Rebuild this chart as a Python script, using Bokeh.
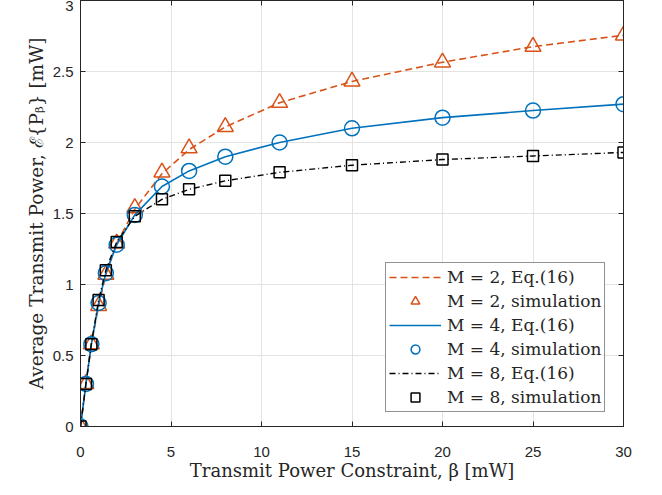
from bokeh.plotting import figure
from bokeh.models import Range1d, LinearAxis, Legend, LegendItem, FixedTicker, CustomJSTickFormatter
from bokeh.embed import file_html
from bokeh.resources import INLINE

# ---- data ----
beta = [0, 0.3, 0.6, 1, 1.4, 2, 3, 4.5, 6, 8, 11, 15, 20, 25, 30]
m2_eq = [0, 0.30, 0.58, 0.85, 1.07, 1.29, 1.53, 1.78, 1.95, 2.11, 2.28, 2.43, 2.565, 2.675, 2.755]
m2_sim = [0, 0.30, 0.58, 0.85, 1.07, 1.29, 1.54, 1.79, 1.96, 2.11, 2.28, 2.43, 2.565, 2.675, 2.755]
m4_eq = [0, 0.30, 0.58, 0.87, 1.08, 1.28, 1.49, 1.69, 1.80, 1.90, 2.00, 2.10, 2.175, 2.225, 2.27]
m4_sim = [0, 0.30, 0.58, 0.87, 1.08, 1.28, 1.49, 1.69, 1.80, 1.90, 2.00, 2.10, 2.175, 2.225, 2.27]
m8_eq = [0, 0.30, 0.58, 0.89, 1.10, 1.30, 1.48, 1.60, 1.67, 1.73, 1.79, 1.84, 1.88, 1.905, 1.93]
m8_sim = [0, 0.30, 0.58, 0.89, 1.10, 1.30, 1.48, 1.60, 1.67, 1.73, 1.79, 1.84, 1.88, 1.905, 1.93]
x_ticks = [0, 5, 10, 15, 20, 25, 30]
y_ticks = [0, 0.5, 1, 1.5, 2, 2.5, 3]
labels = ["M = 2, Eq.(16)", "M = 2, simulation", "M = 4, Eq.(16)",
          "M = 4, simulation", "M = 8, Eq.(16)", "M = 8, simulation"]

ORANGE = "#D95319"
BLUE = "#0072BD"
BLACK = "#000000"
AX = "#262626"
TICK_FONT = "Liberation Sans"
SERIF = "DejaVu Serif"

p = figure(frame_width=543, frame_height=426,
           x_range=Range1d(0, 30), y_range=Range1d(0, 3),
           output_backend="svg", toolbar_location=None,
           min_border_left=80, min_border_right=31,
           min_border_top=0, min_border_bottom=50)
p.background_fill_color = "white"
p.outline_line_color = AX
p.outline_line_width = 1

for ax in (p.xaxis[0], p.yaxis[0]):
    ax.axis_line_color = AX
    ax.major_tick_line_color = AX
    ax.major_tick_in = 5
    ax.major_tick_out = 0
    ax.minor_tick_line_color = None
    ax.major_label_text_font = TICK_FONT
    ax.major_label_text_font_size = "15px"
    ax.major_label_text_color = AX
    ax.axis_label_text_font = SERIF
    ax.axis_label_text_font_style = "normal"
    ax.axis_label_text_color = AX

p.xaxis.axis_label_text_font_size = "18px"
p.yaxis.axis_label_text_font_size = "18.5px"
p.xaxis.ticker = FixedTicker(ticks=x_ticks)
p.yaxis.ticker = FixedTicker(ticks=y_ticks)
p.xaxis.major_label_standoff = 20
p.yaxis.major_label_standoff = 7
p.xaxis.axis_label = "Transmit Power Constraint, \u03b2 [mW]"
p.yaxis.axis_label = "Average Transmit Power, \u2130{P\u1d66} [mW]"
p.xaxis.axis_label_standoff = 0
p.yaxis.axis_label_standoff = 3

# top / right ticks (box), no labels
blank = CustomJSTickFormatter(code="return ''")
top = LinearAxis(ticker=FixedTicker(ticks=x_ticks), formatter=blank,
                 major_tick_in=5, major_tick_out=0, minor_tick_line_color=None,
                 axis_line_color=AX, major_tick_line_color=AX, major_label_standoff=0)
right = LinearAxis(ticker=FixedTicker(ticks=y_ticks), formatter=blank,
                   major_tick_in=5, major_tick_out=0, minor_tick_line_color=None,
                   axis_line_color=AX, major_tick_line_color=AX, major_label_standoff=0)
p.add_layout(top, "above")
p.add_layout(right, "right")

p.xgrid.ticker = FixedTicker(ticks=x_ticks)
p.ygrid.ticker = FixedTicker(ticks=y_ticks)
p.grid.grid_line_color = "#e3e3e3"
p.grid.grid_line_width = 1

r1 = p.line(beta, m2_eq, line_color=ORANGE, line_width=1.6, line_dash="7 4")
r2 = p.scatter(beta, m2_sim, marker="triangle", size=16, fill_color=None,
               line_color=ORANGE, line_width=1.5)
r3 = p.line(beta, m4_eq, line_color=BLUE, line_width=1.6)
r4 = p.scatter(beta, m4_sim, marker="circle", size=15, fill_color=None,
               line_color=BLUE, line_width=1.5)
r5 = p.line(beta, m8_eq, line_color=BLACK, line_width=1.4, line_dash="6 3 1 3")
r6 = p.scatter(beta, m8_sim, marker="square", size=11, fill_color=None,
               line_color=BLACK, line_width=1.5)

items = [LegendItem(label=l, renderers=[r]) for l, r in zip(labels, [r1, r2, r3, r4, r5, r6])]
legend = Legend(items=items, location=(305, 14), orientation="vertical")
legend.label_text_font = SERIF
legend.label_text_font_size = "17px"
legend.label_text_color = AX
legend.glyph_width = 52
legend.glyph_height = 22
legend.label_height = 22
legend.spacing = 2
legend.padding = 3
legend.margin = 0
legend.label_standoff = 6
legend.border_line_color = AX
legend.border_line_width = 1
legend.background_fill_color = "white"
legend.background_fill_alpha = 1
p.add_layout(legend, "center")

open("out.html", "w").write(file_html(p, INLINE))
